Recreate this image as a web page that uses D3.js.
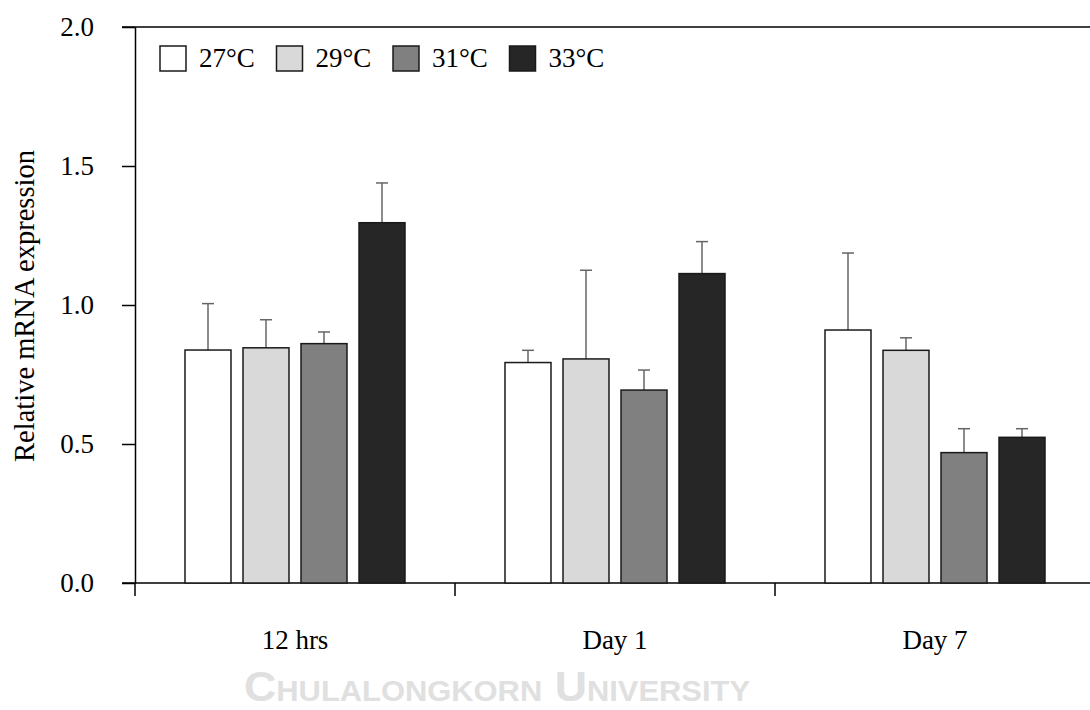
<!DOCTYPE html>
<html lang="en">
<head>
    <meta charset="UTF-8">
    <title>Relative mRNA expression</title>
    <script src="https://cdnjs.cloudflare.com/ajax/libs/d3/7.8.5/d3.min.js"></script>
    <style>
        body { margin: 0; background: #fff; }
        svg { display: block; }
    </style>
</head>
<body>
    <div id="chart"></div>
    <script>
        // groups on the x axis and the four temperatures
        var groups = ["12 hrs", "Day 1", "Day 7"];
        var temps = ["27°C", "29°C", "31°C", "33°C"];

        // mean values
        var mean27 = [0.838, 0.793, 0.910];
        var mean29 = [0.846, 0.806, 0.837];
        var mean31 = [0.861, 0.694, 0.469];
        var mean33 = [1.296, 1.113, 0.524];

        // upper error bar (added on top of the mean)
        var err27 = [0.167, 0.044, 0.277];
        var err29 = [0.101, 0.319, 0.045];
        var err31 = [0.042, 0.072, 0.086];
        var err33 = [0.143, 0.115, 0.031];

        var yTicks = [0, 0.5, 1.0, 1.5, 2.0];

        var means = [mean27, mean29, mean31, mean33];
        var errs = [err27, err29, err31, err33];

        var w = 1090, h = 710;
        // note: "top" is taken by window.top, so use other names
        var plotLeft = 135, plotTop = 27, plotBottom = 583;
        var tickLen = 13;
        var font = "'Liberation Serif', 'Times New Roman', serif";

        // flat rows for drawing
        var rows = [];
        groups.forEach(function (g, gi) {
            temps.forEach(function (t, ti) {
                rows.push({ group: g, temp: t, value: means[ti][gi], err: errs[ti][gi] });
            });
        });

        var x0 = d3.scaleBand()
            .domain(groups)
            .range([plotLeft, plotLeft + 960]);

        var x1 = d3.scaleBand()
            .domain(temps)
            .range([0, x0.bandwidth()])
            .paddingInner(0.207)
            .paddingOuter(0.862);

        var y = d3.scaleLinear()
            .domain([0, 2])
            .range([plotBottom, plotTop]);

        var color = d3.scaleOrdinal()
            .domain(temps)
            .range(["#ffffff", "#d9d9d9", "#808080", "#262626"]);

        var svg = d3.select("#chart")
            .append("svg")
            .attr("width", w)
            .attr("height", h);

        // top frame line
        svg.append("line")
            .attr("x1", plotLeft - tickLen).attr("x2", w)
            .attr("y1", y(2)).attr("y2", y(2))
            .attr("stroke", "#000").attr("stroke-width", 1.5);

        // x axis line (extends left to meet the y ticks)
        svg.append("line")
            .attr("x1", plotLeft - tickLen).attr("x2", w)
            .attr("y1", y(0)).attr("y2", y(0))
            .attr("stroke", "#000").attr("stroke-width", 1.5);

        // group boundary ticks
        svg.selectAll(".xtick")
            .data(groups)
            .enter()
            .append("line")
            .attr("class", "xtick")
            .attr("x1", function (d) { return x0(d); })
            .attr("x2", function (d) { return x0(d); })
            .attr("y1", y(0))
            .attr("y2", y(0) + tickLen)
            .attr("stroke", "#000").attr("stroke-width", 1.5);

        // group labels
        var xAxis = svg.append("g")
            .attr("transform", "translate(0," + y(0) + ")")
            .call(d3.axisBottom(x0).tickSize(0).tickSizeOuter(0).tickPadding(47));
        xAxis.select(".domain").remove();
        xAxis.selectAll("text")
            .attr("font-family", font)
            .attr("font-size", "27px")
            .attr("fill", "#000");

        // y axis
        var yAxis = svg.append("g")
            .attr("transform", "translate(" + plotLeft + ",0)")
            .call(d3.axisLeft(y)
                .tickValues(yTicks)
                .tickFormat(d3.format(".1f"))
                .tickSize(tickLen)
                .tickSizeOuter(0)
                .tickPadding(28));
        yAxis.select(".domain").attr("stroke-width", 1.5);
        yAxis.selectAll("line").attr("stroke-width", 1.5);
        yAxis.selectAll("text")
            .attr("font-family", font)
            .attr("font-size", "27px")
            .attr("fill", "#000");

        // y axis title
        svg.append("text")
            .attr("transform", "translate(34," + ((plotTop + plotBottom) / 2 + 1) + ") rotate(-90)")
            .attr("text-anchor", "middle")
            .attr("font-family", font)
            .attr("font-size", "28.5px")
            .text("Relative mRNA expression");

        // error bars (drawn first, bars cover the lower part)
        var eb = svg.selectAll(".err")
            .data(rows)
            .enter()
            .append("g")
            .attr("class", "err")
            .attr("stroke", "#666")
            .attr("stroke-width", 1.5);

        eb.append("line")
            .attr("x1", function (d) { return x0(d.group) + x1(d.temp) + x1.bandwidth() / 2; })
            .attr("x2", function (d) { return x0(d.group) + x1(d.temp) + x1.bandwidth() / 2; })
            .attr("y1", function (d) { return y(d.value); })
            .attr("y2", function (d) { return y(d.value + d.err); });

        eb.append("line")
            .attr("x1", function (d) { return x0(d.group) + x1(d.temp) + x1.bandwidth() / 2 - 6; })
            .attr("x2", function (d) { return x0(d.group) + x1(d.temp) + x1.bandwidth() / 2 + 6; })
            .attr("y1", function (d) { return y(d.value + d.err); })
            .attr("y2", function (d) { return y(d.value + d.err); });

        // bars
        svg.selectAll(".bar")
            .data(rows)
            .enter()
            .append("rect")
            .attr("class", "bar")
            .attr("x", function (d) { return x0(d.group) + x1(d.temp); })
            .attr("y", function (d) { return y(d.value); })
            .attr("width", x1.bandwidth())
            .attr("height", function (d) { return y(0) - y(d.value); })
            .attr("fill", function (d) { return color(d.temp); })
            .attr("stroke", "#1a1a1a")
            .attr("stroke-width", 1.5);

        // legend
        var legend = svg.selectAll(".legend")
            .data(temps)
            .enter()
            .append("g")
            .attr("class", "legend")
            .attr("transform", function (d, i) { return "translate(" + (160 + i * 116.5) + ",46)"; });

        legend.append("rect")
            .attr("width", 26)
            .attr("height", 25)
            .attr("fill", function (d) { return color(d); })
            .attr("stroke", "#1a1a1a")
            .attr("stroke-width", 1.5);

        legend.append("text")
            .attr("x", 39)
            .attr("y", 21)
            .attr("font-family", font)
            .attr("font-size", "27px")
            .text(function (d) { return d; });

        // faint watermark at the bottom, squeezed small caps
        svg.append("text")
            .attr("x", 244)
            .attr("y", 701)
            .attr("textLength", 506)
            .attr("lengthAdjust", "spacingAndGlyphs")
            .attr("font-family", "'Liberation Sans', Arial, sans-serif")
            .attr("font-weight", "bold")
            .attr("font-size", "42px")
            .style("font-variant", "small-caps")
            .attr("fill", "#e0e0e0")
            .text("Chulalongkorn University");
    </script>
</body>
</html>
